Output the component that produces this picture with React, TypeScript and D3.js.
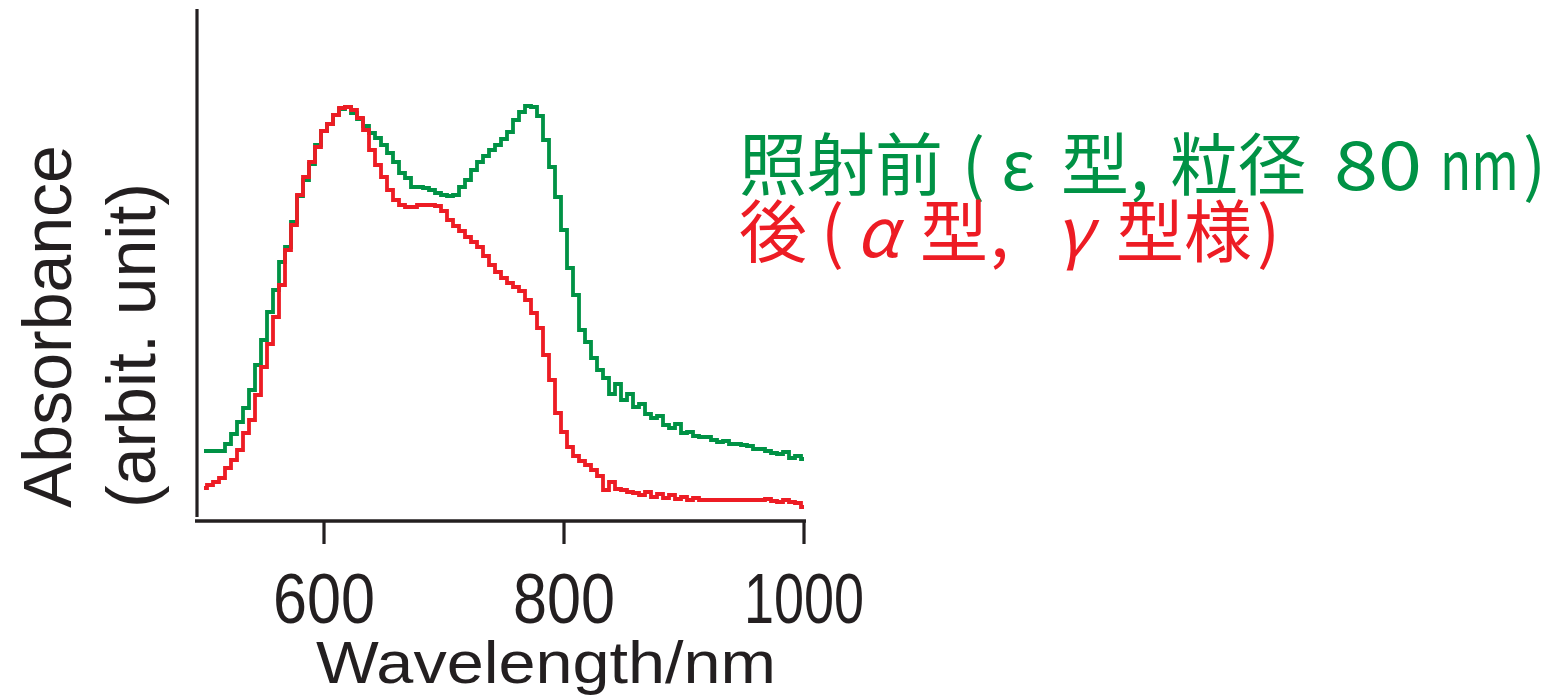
import React from "react";
import * as d3 from "d3";

const wavelengths = [
  500, 505, 510, 515, 520, 525, 530, 535, 540, 545, 550, 555, 560, 565, 570, 575, 580, 585, 590, 595,
  600, 605, 610, 615, 620, 625, 630, 635, 640, 645, 650, 655, 660, 665, 670, 675, 680, 685, 690, 695,
  700, 705, 710, 715, 720, 725, 730, 735, 740, 745, 750, 755, 760, 765, 770, 775, 780, 785, 790, 795,
  800, 805, 810, 815, 820, 825, 830, 835, 840, 845, 850, 855, 860, 865, 870, 875, 880, 885, 890, 895,
  900, 905, 910, 915, 920, 925, 930, 935, 940, 945, 950, 955, 960, 965, 970, 975, 980, 985, 990, 995,
  1000,
];

// Before irradiation (epsilon-type, 80 nm), arbitrary units
const beforeAbs = [
  69, 69, 69, 69, 76, 86, 98, 112, 130, 155, 180, 208, 230, 258, 273, 298, 324, 340, 356, 375,
  389, 396, 405, 411, 413, 407, 401, 394, 387, 382, 375, 367, 358, 347, 342, 333, 333, 332, 330, 327,
  325, 324, 325, 333, 340, 350, 358, 364, 370, 375, 381, 388, 400, 408, 414, 413, 404, 380, 353, 323,
  290, 252, 225, 190, 178, 162, 150, 142, 126, 136, 120, 126, 113, 116, 106, 102, 104, 95, 92, 96,
  87, 88, 84, 83, 83, 80, 78, 79, 76, 76, 75, 74, 71, 71, 69, 67, 66, 68, 62, 64,
  61,
];

// After irradiation (alpha-type, gamma-type like), arbitrary units
const afterAbs = [
  32, 35, 38, 42, 52, 60, 70, 87, 100, 125, 153, 176, 203, 235, 270, 295, 325, 343, 358, 373,
  389, 396, 405, 412, 413, 410, 402, 390, 370, 355, 343, 330, 320, 315, 313, 313, 315, 315, 315, 314,
  309, 300, 294, 289, 283, 278, 273, 264, 255, 248, 242, 237, 233, 229, 220, 207, 192, 165, 140, 107,
  88, 73, 64, 59, 55, 50, 44, 30, 38, 31, 30, 28, 27, 25, 28, 23, 26, 22, 25, 21,
  23, 20, 22, 20, 20, 20, 20, 20, 20, 20, 20, 20, 20, 20, 21, 19, 18, 20, 18, 17,
  13,
];

const xTicks = [600, 800, 1000];
const xTickLabels = ["600", "800", "1000"];

const legendBefore = ["照射前", "(", "ε", "型", ",", "粒径", "80", "nm", ")"];
const legendAfter = ["後", "(", "α", "型", ",", "γ", "型様", ")"];

const GREEN = "#009245";
const RED = "#ED1C24";
const INK = "#231F20";

// layout of legend pieces (x position, italic, forced width)
const beforeLayout = [
  { x: 739 },
  { x: 962 },
  { x: 1001 },
  { x: 1061 },
  { x: 1130 },
  { x: 1170 },
  { x: 1334, w: 88 },
  { x: 1440, w: 79 },
  { x: 1523 },
];
const afterLayout = [
  { x: 739 },
  { x: 821 },
  { x: 856, italic: true },
  { x: 920 },
  { x: 990 },
  { x: 1055, italic: true },
  { x: 1116 },
  { x: 1257 },
];

export default function App() {
  const x = d3.scaleLinear().domain([495, 1000]).range([198, 804]);
  const y = d3.scaleLinear().domain([0, 413]).range([520, 107]);

  const line = d3
    .line<number>()
    .x((_, i) => x(wavelengths[i]))
    .y((d) => y(d))
    .curve(d3.curveStep);

  const [x0, x1] = x.range();
  const baseY = y(0);

  const cjk = "'Noto Sans CJK JP', sans-serif";

  return (
    <svg
      width={1562}
      height={699}
      style={{ position: "absolute", left: 0, top: 0, background: "#fff" }}
    >
      {/* axes */}
      <line x1={197} x2={197} y1={9} y2={517} stroke={INK} strokeWidth={3.2} />
      <line x1={x0 - 3} x2={x1 + 2} y1={baseY + 1} y2={baseY + 1} stroke={INK} strokeWidth={3.6} />
      {xTicks.map((t, i) => (
        <g key={t}>
          <line x1={x(t)} x2={x(t)} y1={baseY + 1} y2={baseY + 24} stroke={INK} strokeWidth={3.2} />
          <text
            x={x(t)}
            y={623}
            textAnchor="middle"
            fontFamily="'Liberation Sans', Arial, sans-serif"
            fontSize={70}
            fill={INK}
            textLength={xTickLabels[i].length === 4 ? 120 : 102}
            lengthAdjust="spacingAndGlyphs"
          >
            {xTickLabels[i]}
          </text>
        </g>
      ))}

      {/* data */}
      <path d={line(beforeAbs) ?? ""} fill="none" stroke={GREEN} strokeWidth={3.8} />
      <path d={line(afterAbs) ?? ""} fill="none" stroke={RED} strokeWidth={3.8} />

      {/* x-axis title */}
      <text
        x={316}
        y={683}
        fontFamily="'Liberation Sans', Arial, sans-serif"
        fontSize={60}
        fill={INK}
        textLength={460}
        lengthAdjust="spacingAndGlyphs"
      >
        Wavelength/nm
      </text>

      {/* y-axis title */}
      <g fontFamily="'Liberation Sans', Arial, sans-serif" fontSize={68} fill={INK}>
        <text transform="translate(71,508) rotate(-90)">Absorbance</text>
        <text transform="translate(155,508) rotate(-90)">(arbit. unit)</text>
      </g>

      {/* legend */}
      <g fontFamily={cjk} fontSize={68} fill={GREEN}>
        {legendBefore.map((s, i) => {
          const l = beforeLayout[i] as { x: number; w?: number };
          return (
            <text
              key={i}
              x={l.x}
              y={190}
              {...(l.w ? { textLength: l.w, lengthAdjust: "spacingAndGlyphs" } : {})}
            >
              {s}
            </text>
          );
        })}
      </g>
      <g fontFamily={cjk} fontSize={68} fill={RED}>
        {legendAfter.map((s, i) => {
          const l = afterLayout[i] as { x: number; italic?: boolean };
          return (
            <text key={i} x={l.x} y={257} fontStyle={l.italic ? "italic" : "normal"}>
              {s}
            </text>
          );
        })}
      </g>
    </svg>
  );
}
